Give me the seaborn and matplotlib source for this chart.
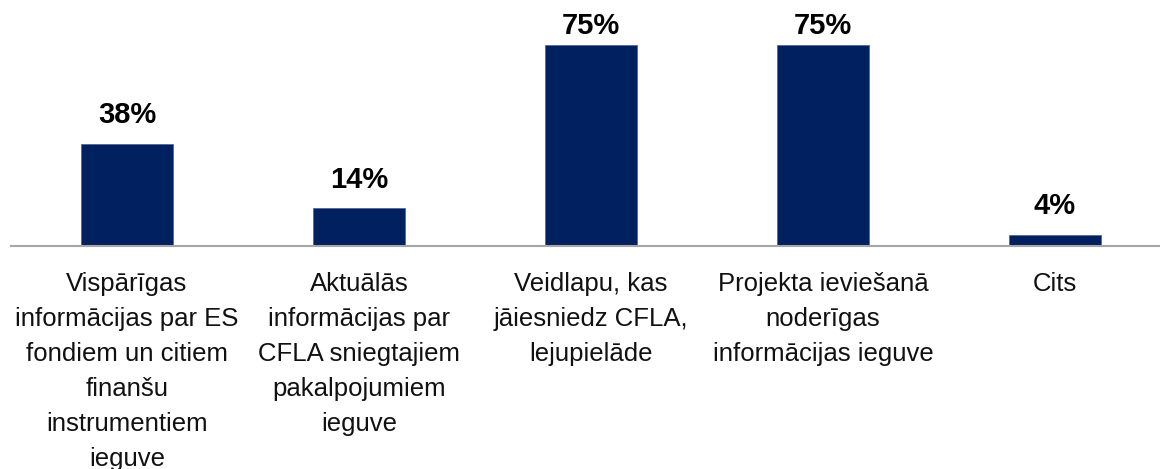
import matplotlib
matplotlib.use("Agg")
import matplotlib.pyplot as plt
import seaborn as sns
import pandas as pd

categories = [
    "Vispārīgas\ninformācijas par ES\nfondiem un citiem\nfinanšu\ninstrumentiem\nieguve",
    "Aktuālās\ninformācijas par\nCFLA sniegtajiem\npakalpojumiem\nieguve",
    "Veidlapu, kas\njāiesniedz CFLA,\nlejupielāde",
    "Projekta ieviešanā\nnoderīgas\ninformācijas ieguve",
    "Cits",
]
values = [38, 14, 75, 75, 4]
value_labels = ["38%", "14%", "75%", "75%", "4%"]

sns.set_style("white")
plt.rcParams['font.family'] = ['Liberation Sans', 'DejaVu Sans']

df = pd.DataFrame({"cat": categories, "val": values})

fig = plt.figure(figsize=(11.6, 4.69), dpi=100)
ax = fig.add_axes([11/1160, (469-246)/469, 1149/1160, 246/469])
sns.barplot(data=df, x="cat", y="val", color="#002060", width=0.4,
            saturation=1, ax=ax, edgecolor="#4a5f8f", linewidth=0.5)

ax.set_xlim(-0.5, (1160-127)/232)
ax.set_ylim(0, 246/2.68)

for i, (v, lab) in enumerate(zip(values, value_labels)):
    # labels near the top of the plot area are pushed closer to the bar
    off = 8 if v > 70 else 15
    ax.annotate(lab, (i, v), xytext=(0, off), textcoords="offset points",
                ha="center", va="baseline", fontsize=21, fontweight="bold", color="black")

for s in ["top", "left", "right"]:
    ax.spines[s].set_visible(False)
ax.spines["bottom"].set_color("#A6A6A6")
ax.spines["bottom"].set_linewidth(1.5)
ax.set_yticks([])
ax.set_xlabel("")
ax.set_ylabel("")
ax.tick_params(axis="x", length=0, pad=19)
ax.set_xticks(range(len(categories)))
ax.set_xticklabels(categories, fontsize=18.5, linespacing=1.57, color="#111111")

fig.savefig("out.png", dpi=100)
